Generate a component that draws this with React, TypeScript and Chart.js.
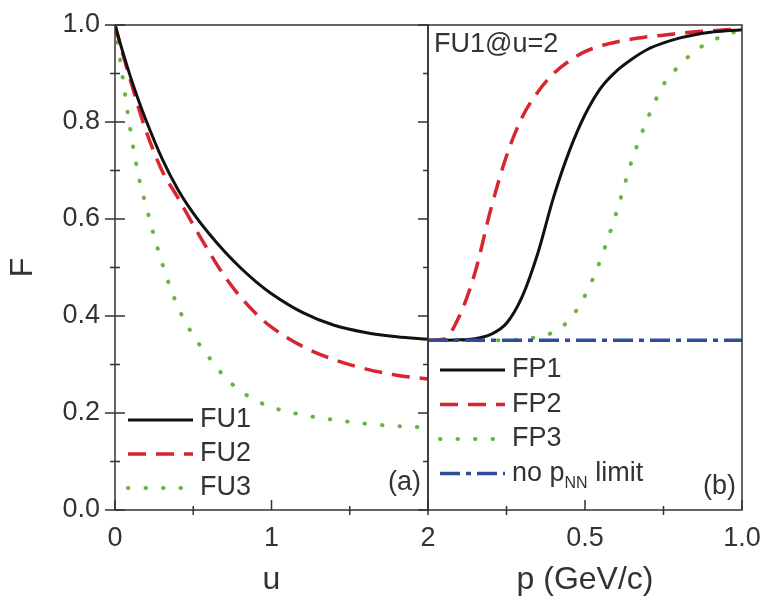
import React, { useEffect, useRef } from 'react';
import { Chart, registerables } from 'chart.js';

Chart.register(...registerables);

// ---------- data ----------
const uValues = [0, 0.05, 0.1, 0.15, 0.2, 0.3, 0.4, 0.5, 0.6, 0.7, 0.8, 0.9, 1.0, 1.2, 1.4, 1.6, 1.8, 2.0];
const fu1Values = [1.0, 0.944, 0.892, 0.845, 0.802, 0.725, 0.662, 0.612, 0.57, 0.533, 0.5, 0.471, 0.446, 0.407, 0.381, 0.366, 0.357, 0.352];
const fu2Values = [1.0, 0.94, 0.885, 0.83, 0.78, 0.7, 0.645, 0.588, 0.533, 0.482, 0.44, 0.405, 0.377, 0.337, 0.31, 0.291, 0.278, 0.27];
const fu3Values = [1.0, 0.89, 0.78, 0.69, 0.625, 0.51, 0.42, 0.36, 0.315, 0.275, 0.246, 0.226, 0.212, 0.196, 0.186, 0.178, 0.173, 0.17];

const pValues = [0, 0.05, 0.1, 0.15, 0.2, 0.25, 0.3, 0.35, 0.4, 0.45, 0.5, 0.55, 0.6, 0.65, 0.7, 0.75, 0.8, 0.85, 0.9, 0.95, 1.0];
const fp1Values = [0.35, 0.35, 0.351, 0.353, 0.362, 0.385, 0.44, 0.53, 0.645, 0.74, 0.815, 0.87, 0.905, 0.93, 0.95, 0.963, 0.973, 0.98, 0.985, 0.988, 0.99];
const fp2Values = [0.35, 0.352, 0.4, 0.49, 0.62, 0.73, 0.81, 0.862, 0.9, 0.926, 0.945, 0.957, 0.965, 0.971, 0.976, 0.979, 0.983, 0.986, 0.988, 0.99, 0.992];
const fp3Values = [0.35, 0.35, 0.35, 0.35, 0.35, 0.35, 0.352, 0.357, 0.367, 0.392, 0.442, 0.517, 0.613, 0.722, 0.808, 0.877, 0.916, 0.946, 0.966, 0.98, 0.99];
const noLimitP = [0, 1];
const noLimitF = [0.35, 0.35];

const fLabeledTicks = [0, 0.2, 0.4, 0.6, 0.8, 1.0];
const uLabeledTicks = [0, 1, 2];
const pLabeledTicks = [0.5, 1.0];

// ---------- styles ----------
const FONT = "'Liberation Sans', Arial, Helvetica, sans-serif";
const TEXT = '#333333';
const AXIS = '#333333';
const BLACK = '#111111';
const RED = '#d7262f';
const GREEN = '#6cb33f';
const BLUE = '#2f4c9c';

const toPts = (xs: number[], ys: number[]) => xs.map((x, i) => ({ x, y: ys[i] }));
const near = (list: number[], v: number) => list.some((m) => Math.abs(m - v) < 1e-6);

const solid = (label: string, xs: number[], ys: number[], color: string) => ({
  label, data: toPts(xs, ys), borderColor: color, borderWidth: 3, borderDash: [] as number[],
  borderCapStyle: 'butt', pointRadius: 0, cubicInterpolationMode: 'monotone', fill: false,
});
const dashed = (label: string, xs: number[], ys: number[], color: string) => ({
  label, data: toPts(xs, ys), borderColor: color, borderWidth: 3.5, borderDash: [18, 10],
  borderCapStyle: 'butt', pointRadius: 0, cubicInterpolationMode: 'monotone', fill: false,
});
const dotted = (label: string, xs: number[], ys: number[], color: string) => ({
  label, data: toPts(xs, ys), borderColor: color, borderWidth: 4, borderDash: [0.5, 17],
  borderCapStyle: 'round', pointRadius: 0, cubicInterpolationMode: 'monotone', fill: false,
});

function drawRich(ctx: CanvasRenderingContext2D, text: string, x: number, y: number, size: number) {
  const parts = text.split(/_\{([^}]*)\}/);
  let cx = x;
  parts.forEach((p, i) => {
    const sub = i % 2 === 1;
    ctx.font = `${sub ? Math.round(size * 0.6) : size}px ${FONT}`;
    ctx.fillText(p, cx, sub ? y + size * 0.38 : y);
    cx += ctx.measureText(p).width;
  });
}

const panelDecor = {
  id: 'panelDecor',
  afterDatasetsDraw(chart: any, _args: any, opts: any) {
    const { ctx, chartArea: a, scales } = chart;
    ctx.save();
    ctx.strokeStyle = AXIS;
    ctx.lineWidth = 1.5;
    ctx.setLineDash([]);
    ctx.strokeRect(a.left, a.top, a.right - a.left, a.bottom - a.top);
    ctx.beginPath();
    scales.x.ticks.forEach((t: any) => {
      const px = scales.x.getPixelForValue(t.value);
      if (near(opts.xMajor, t.value)) {
        ctx.moveTo(px, a.bottom); ctx.lineTo(px, a.bottom - 10);
      } else {
        ctx.moveTo(px, a.bottom + 5); ctx.lineTo(px, a.bottom - 4);
      }
    });
    scales.y.ticks.forEach((t: any) => {
      const py = scales.y.getPixelForValue(t.value);
      const len = near(fLabeledTicks, t.value) ? 10 : 5;
      if (opts.yLeft) { ctx.moveTo(a.left - len, py); ctx.lineTo(a.left + len, py); }
      if (opts.yRight) { ctx.moveTo(a.right, py); ctx.lineTo(a.right - len, py); }
    });
    ctx.stroke();

    // legend
    const lg = opts.legend;
    chart.data.datasets.forEach((ds: any, i: number) => {
      const y = a.top + lg.top + i * lg.step;
      ctx.beginPath();
      ctx.strokeStyle = ds.borderColor;
      ctx.lineWidth = ds.borderWidth;
      ctx.lineCap = ds.borderCapStyle || 'butt';
      ctx.setLineDash(ds.borderDash || []);
      ctx.moveTo(a.left + lg.x0, y);
      ctx.lineTo(a.left + lg.x1, y);
      ctx.stroke();
      ctx.setLineDash([]);
      ctx.fillStyle = TEXT;
      ctx.textBaseline = 'middle';
      ctx.textAlign = 'left';
      drawRich(ctx, ds.label, a.left + lg.tx, y, 27);
    });

    // annotations
    ctx.fillStyle = TEXT;
    ctx.textBaseline = 'middle';
    ctx.font = `27px ${FONT}`;
    (opts.notes || []).forEach((n: any) => {
      ctx.textAlign = n.align;
      const x = n.align === 'right' ? a.right + n.dx : a.left + n.dx;
      const y = n.fromBottom ? a.bottom + n.dy : a.top + n.dy;
      ctx.fillText(n.text, x, y);
    });
    ctx.restore();
  },
};

const tickFont = { family: FONT, size: 27 };
const titleFont = { family: FONT, size: 32 };

function makeLeft(canvas: HTMLCanvasElement) {
  return new Chart(canvas, {
    type: 'line',
    data: {
      datasets: [
        solid('FU1', uValues, fu1Values, BLACK),
        dashed('FU2', uValues, fu2Values, RED),
        dotted('FU3', uValues, fu3Values, GREEN),
      ] as any,
    },
    options: {
      animation: false,
      responsive: false,
      maintainAspectRatio: false,
      layout: { padding: { top: 25, right: 32, left: 0, bottom: 0 } },
      plugins: {
        legend: { display: false },
        tooltip: { enabled: false },
        panelDecor: {
          xMajor: uLabeledTicks,
          yLeft: true,
          yRight: true,
          legend: { top: 395, step: 34, x0: 13, x1: 78, tx: 85 },
          notes: [{ text: '(a)', align: 'right', dx: -7, dy: -27, fromBottom: true }],
        },
      } as any,
      scales: {
        x: {
          type: 'linear', min: 0, max: 2,
          grid: { display: false, drawTicks: true, tickLength: 10 },
          border: { display: false },
          ticks: {
            stepSize: 0.5, padding: 2, color: TEXT, font: tickFont, maxRotation: 0,
            callback: (v: any) => (near(uLabeledTicks, v) ? String(Math.round(v)) : ''),
          },
          title: { display: true, text: 'u', color: TEXT, font: titleFont, padding: { top: 0, bottom: 1 } },
          afterFit: (s: any) => { s.height = 90; },
        },
        y: {
          type: 'linear', min: 0, max: 1,
          grid: { display: false, drawTicks: true, tickLength: 13 },
          border: { display: false },
          ticks: {
            stepSize: 0.1, padding: 2, color: TEXT, font: tickFont,
            callback: (v: any) => (near(fLabeledTicks, v) ? Number(v).toFixed(1) : ''),
          },
          title: { display: true, text: 'F', color: TEXT, font: titleFont, padding: { top: 4, bottom: 0 } },
          afterFit: (s: any) => { s.width = 115; },
        },
      },
    },
    plugins: [panelDecor],
  } as any);
}

function makeRight(canvas: HTMLCanvasElement) {
  const noLimit: any = solid('no p_{NN} limit', noLimitP, noLimitF, BLUE);
  noLimit.borderDash = [20, 6, 5, 6];
  noLimit.borderWidth = 3.5;
  noLimit.order = -1;
  return new Chart(canvas, {
    type: 'line',
    data: {
      datasets: [
        solid('FP1', pValues, fp1Values, BLACK),
        dashed('FP2', pValues, fp2Values, RED),
        dotted('FP3', pValues, fp3Values, GREEN),
        noLimit,
      ] as any,
    },
    options: {
      animation: false,
      responsive: false,
      maintainAspectRatio: false,
      layout: { padding: { top: 25, right: 26, left: 8, bottom: 0 } },
      plugins: {
        legend: { display: false },
        tooltip: { enabled: false },
        panelDecor: {
          xMajor: pLabeledTicks,
          yLeft: false,
          yRight: false,
          legend: { top: 345, step: 34.5, x0: 12, x1: 77, tx: 84 },
          notes: [
            { text: '(b)', align: 'right', dx: -6, dy: -23, fromBottom: true },
            { text: 'FU1@u=2', align: 'left', dx: 6, dy: 20, fromBottom: false },
          ],
        },
      } as any,
      scales: {
        x: {
          type: 'linear', min: 0, max: 1,
          grid: { display: false, drawTicks: true, tickLength: 10 },
          border: { display: false },
          ticks: {
            stepSize: 0.25, padding: 2, color: TEXT, font: tickFont, maxRotation: 0,
            callback: (v: any) => (near(pLabeledTicks, v) ? Number(v).toFixed(1) : ''),
          },
          title: { display: true, text: 'p (GeV/c)', color: TEXT, font: titleFont, padding: { top: 0, bottom: 1 } },
          afterFit: (s: any) => { s.height = 90; },
        },
        y: { type: 'linear', min: 0, max: 1, display: false },
      },
    },
    plugins: [panelDecor],
  } as any);
}

export default function App() {
  const leftRef = useRef<HTMLCanvasElement>(null);
  const rightRef = useRef<HTMLCanvasElement>(null);
  useEffect(() => {
    const l = makeLeft(leftRef.current!);
    const r = makeRight(rightRef.current!);
    return () => { l.destroy(); r.destroy(); };
  }, []);
  return (
    <div style={{ position: 'fixed', left: 0, top: 0, width: 768, height: 600, background: '#fff', overflow: 'hidden' }}>
      <canvas ref={leftRef} width={460} height={600}
        style={{ position: 'absolute', left: 0, top: 0, width: 460, height: 600 }} />
      <canvas ref={rightRef} width={348} height={600}
        style={{ position: 'absolute', left: 420, top: 0, width: 348, height: 600 }} />
    </div>
  );
}
